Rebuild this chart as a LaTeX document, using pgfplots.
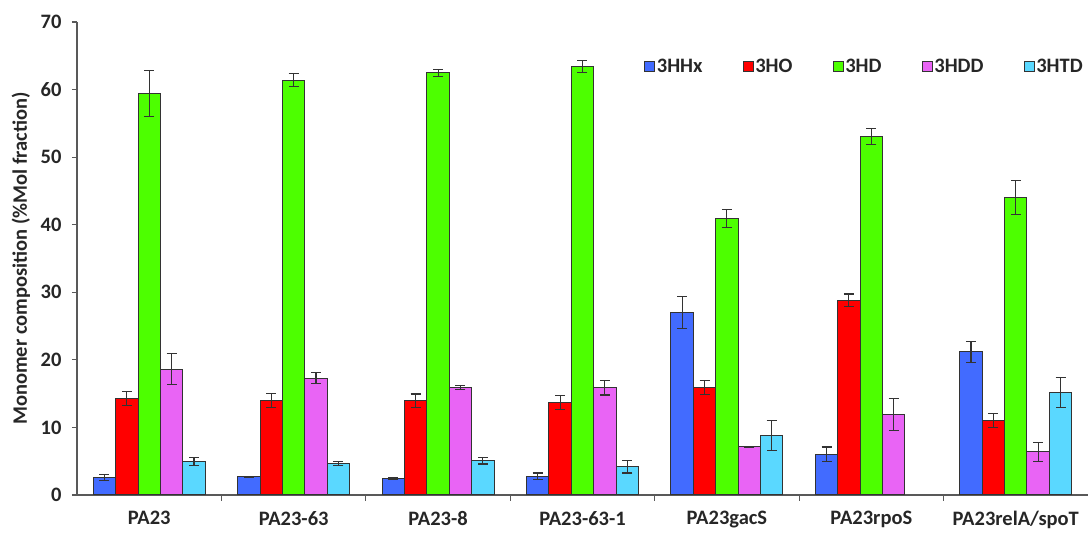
\documentclass[border=0pt]{standalone}
\usepackage{fontspec}
\setmainfont{Carlito}
\usepackage{pgfplots}
\pgfplotsset{compat=1.18}

\definecolor{cHHx}{RGB}{66,107,255}
\definecolor{cHO}{RGB}{255,0,0}
\definecolor{cHD}{RGB}{77,255,0}
\definecolor{cHDD}{RGB}{233,100,245}
\definecolor{cHTD}{RGB}{90,216,255}

\newcommand{\lblfont}{\bfseries\fontsize{20.5}{24}\selectfont}

\begin{document}
\begin{tikzpicture}
\begin{axis}[
  scale only axis,
  width=1011pt, height=473pt,
  ybar=0pt, bar width=22.4pt,
  xmin=-0.5, xmax=6.5,
  ymin=0, ymax=70,
  ytick={0,10,...,70},
  xtick={0,...,6},
  xticklabels={PA23,PA23-63,PA23-8,PA23-63-1,PA23gacS,PA23rpoS,PA23relA/spoT},
  minor xtick={0.5,1.5,...,5.5},
  axis x line*=bottom, axis y line*=left,
  axis line style={black!65, line width=1.2pt, -},
  major x tick style={draw=none},
  minor x tick style={black!65, line width=1pt},
  minor tick length=6pt,
  y tick style={black!65, line width=1.2pt},
  major tick length=5pt,
  tick align=outside,
  /pgf/number format/assume math mode=true,
  tick label style={font=\lblfont, text=black!85},
  xticklabel style={yshift=-8pt},
  yticklabel style={xshift=-7pt},
  ylabel={Monomer composition (\%Mol fraction)},
  every axis y label/.style={at={(axis description cs:-0.0554,0.5)}, rotate=90, anchor=center,
    font=\lblfont, text=black!85},
  every axis plot/.append style={draw=black!80, line width=1pt,
    error bars/y dir=both, error bars/y explicit,
    error bars/error bar style={black!80, line width=1.1pt},
    error bars/error mark options={rotate=90, mark size=5pt, black!80, line width=1.1pt}},
  legend columns=-1,
  legend style={draw=none, fill=none, inner sep=0pt, at={(rel axis cs:0.997,0.905)}, anchor=east,
    font=\lblfont, text=black!85,
    nodes={inner xsep=2pt},
    /tikz/every even column/.append style={column sep=38pt}},
  legend image code/.code={\draw[#1, line width=0.8pt] (0pt,-4pt) rectangle (10pt,6pt);},
]
% 3HHx
\addplot[fill=cHHx] coordinates {
  (0,2.6) +- (0,0.4) (1,2.7) +- (0,0.05) (2,2.47) +- (0,0.1) (3,2.76) +- (0,0.5)
  (4,27.0) +- (0,2.4) (5,6.0) +- (0,1.1) (6,21.2) +- (0,1.55)};
% 3HO
\addplot[fill=cHO] coordinates {
  (0,14.25) +- (0,1.0) (1,14.0) +- (0,1.0) (2,13.95) +- (0,1.0) (3,13.7) +- (0,1.0)
  (4,15.9) +- (0,1.0) (5,28.8) +- (0,0.95) (6,11.05) +- (0,1.0)};
% 3HD
\addplot[fill=cHD] coordinates {
  (0,59.4) +- (0,3.4) (1,61.4) +- (0,0.95) (2,62.5) +- (0,0.5) (3,63.4) +- (0,0.85)
  (4,40.9) +- (0,1.3) (5,53.06) +- (0,1.2) (6,44.0) +- (0,2.55)};
% 3HDD
\addplot[fill=cHDD] coordinates {
  (0,18.6) +- (0,2.3) (1,17.3) +- (0,0.8) (2,15.9) +- (0,0.35) (3,15.9) +- (0,1.1)
  (4,7.15) +- (0,0.05) (5,11.9) +- (0,2.4) (6,6.4) +- (0,1.4)};
% 3HTD (no value for PA23rpoS)
\addplot[fill=cHTD] coordinates {
  (0,4.93) +- (0,0.6) (1,4.6) +- (0,0.3) (2,5.08) +- (0,0.5) (3,4.2) +- (0,0.95)
  (4,8.83) +- (0,2.2) (6,15.2) +- (0,2.2)};
\legend{3HHx,3HO,3HD,3HDD,3HTD}
\end{axis}
\pgfresetboundingbox
\useasboundingbox (-77pt,-39pt) rectangle (1012pt,495pt);
\end{tikzpicture}
\end{document}
